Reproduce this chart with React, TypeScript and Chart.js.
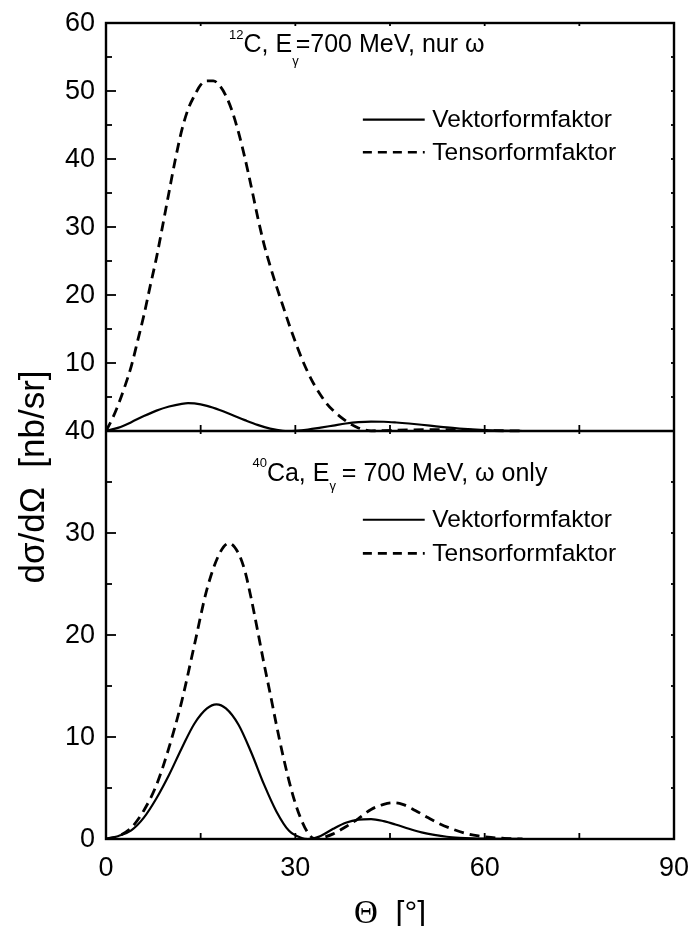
import React, { useEffect, useRef } from "react";
import { Chart, registerables } from "chart.js";

Chart.register(...registerables);

// ---------- data ----------
const xRange = [0, 90];
const xMajorTicks = [0, 30, 60, 90];
const xMinorTicks = [15, 45, 75];
const yTopRange = [0, 60];
const yTopMajorTicks = [10, 20, 30, 40, 50, 60];
const yTopMinorTicks = [5, 15, 25, 35, 45, 55];
const yBotRange = [0, 40];
const yBotMajorTicks = [0, 10, 20, 30, 40];
const yBotMinorTicks = [5, 15, 25, 35];

const seriesNames = ["Vektorformfaktor", "Tensorformfaktor"];
const topTitle = ["12", "C, E", "γ", "=700 MeV, nur ω"];
const botTitle = ["40", "Ca, E", "γ", " = 700 MeV, ω only"];
const xTitle = ["Θ", "  [°]"];
const yTitle = "dσ/dΩ  [nb/sr]";

// 12C, vector form factor
const thetaC12V = [0, 2, 4, 6, 8, 10, 12, 13, 14, 16, 18, 20, 22, 24, 26, 28, 29, 30, 32, 34, 36, 38, 40, 42, 44, 46, 48, 50, 52, 54, 56, 58, 60, 62, 64, 66];
const c12V = [0, 0.5, 1.3, 2.2, 3.0, 3.6, 4.0, 4.1, 4.05, 3.7, 3.1, 2.35, 1.6, 0.9, 0.35, 0.03, 0, 0.04, 0.22, 0.5, 0.8, 1.1, 1.3, 1.38, 1.36, 1.25, 1.1, 0.92, 0.72, 0.52, 0.36, 0.23, 0.13, 0.06, 0.02, 0];

// 12C, tensor form factor
const thetaC12T = [0, 1, 2, 3, 4, 5, 6, 7, 8, 9, 10, 11, 12, 13, 14, 15, 16, 17, 18, 19, 20, 21, 22, 23, 24, 25, 26, 27, 28, 29, 30, 31, 32, 33, 34, 35, 36, 37, 38, 39, 40, 41, 42, 44, 48, 52, 56, 60, 64, 66];
const c12T = [0, 1.8, 4.0, 6.6, 9.5, 13.2, 17.0, 21.3, 25.5, 30.3, 35.2, 40.0, 44.2, 47.3, 49.3, 50.9, 51.5, 51.5, 50.8, 49.3, 47.0, 43.9, 40.2, 36.0, 31.6, 27.6, 24.3, 21.3, 18.5, 15.7, 13.1, 10.7, 8.6, 6.8, 5.3, 4.0, 3.0, 2.2, 1.5, 0.9, 0.45, 0.15, 0.03, 0.06, 0.15, 0.2, 0.15, 0.08, 0.02, 0];

// 40Ca, vector form factor
const thetaCaV = [0, 2, 4, 6, 8, 10, 12, 14, 16, 17.5, 19, 21, 23, 25, 27, 29, 31, 32, 34, 36, 38, 40, 42, 44, 46, 48, 50, 52, 54, 56, 58, 60, 63, 66];
const caV = [0, 0.3, 0.85, 2.1, 4.0, 6.3, 8.9, 11.3, 12.8, 13.2, 12.8, 11.2, 8.5, 5.4, 2.7, 0.8, 0.1, 0, 0.3, 1.0, 1.6, 1.9, 1.95, 1.75, 1.4, 1.0, 0.65, 0.4, 0.22, 0.12, 0.06, 0.03, 0.01, 0];

// 40Ca, tensor form factor
const thetaCaT = [0, 2, 4, 6, 8, 10, 12, 14, 16, 18, 19.5, 21, 22, 23, 24, 25, 26, 27, 28, 29, 30, 31, 32, 33, 34, 36, 38, 40, 42, 44, 45.5, 47, 49, 51, 53, 55, 57, 59, 61, 63, 66];
const caT = [0, 0.3, 1.1, 2.8, 5.3, 9.0, 13.5, 19.0, 24.5, 28.0, 29.0, 28.0, 26.3, 23.6, 20.5, 17.3, 14.3, 11.2, 8.3, 5.7, 3.5, 1.8, 0.6, 0.05, 0.1, 0.5, 1.2, 2.0, 2.9, 3.4, 3.55, 3.4, 2.8, 2.1, 1.45, 0.95, 0.55, 0.3, 0.15, 0.07, 0];

const SANS = '"Liberation Sans", Arial, Helvetica, sans-serif';
const SERIF = '"Liberation Serif", "Times New Roman", serif';
const SOLID: number[] = [];
const DASH = [10, 6];

const pts = (xs: number[], ys: number[]) => xs.map((x, i) => ({ x, y: ys[i] }));

function drawRich(ctx: CanvasRenderingContext2D, x: number, y: number, parts: { t: string; size: number; dy: number; shrink?: number }[]) {
  let cx = x;
  for (const p of parts) {
    ctx.font = `${p.size}px ${SANS}`;
    ctx.fillText(p.t, cx, y + p.dy);
    cx += ctx.measureText(p.t).width - (p.shrink || 0);
  }
}

export default function App() {
  const ref = useRef<HTMLCanvasElement>(null);

  useEffect(() => {
    document.body.style.margin = "0";
    const canvas = ref.current!;

    const panelPlugin = {
      id: "panelAxes",
      afterDraw(chart: any) {
        const ctx: CanvasRenderingContext2D = chart.ctx;
        const xs = chart.scales.x;
        const yt = chart.scales.yTop;
        const yb = chart.scales.yBot;
        const L = xs.getPixelForValue(xRange[0]);
        const R = xs.getPixelForValue(xRange[1]);
        const T = yt.getPixelForValue(yTopRange[1]);
        const M = yb.getPixelForValue(yBotRange[1]);
        const B = yb.getPixelForValue(yBotRange[0]);
        ctx.save();
        ctx.strokeStyle = "#000";
        ctx.fillStyle = "#000";
        const seg = (x1: number, y1: number, x2: number, y2: number) => {
          ctx.beginPath();
          ctx.moveTo(x1, y1);
          ctx.lineTo(x2, y2);
          ctx.stroke();
        };
        // frame
        ctx.lineWidth = 2.4;
        ctx.strokeRect(L, T, R - L, B - T);
        seg(L, M, R, M);

        // y ticks
        ctx.lineWidth = 1.8;
        const yTick = (p: number, len: number) => {
          seg(L, p, L + len, p);
          seg(R, p, R - 3, p);
        };
        yTopMajorTicks.forEach((v) => yTick(yt.getPixelForValue(v), 10));
        yTopMinorTicks.forEach((v) => yTick(yt.getPixelForValue(v), 6));
        yBotMajorTicks.forEach((v) => yTick(yb.getPixelForValue(v), 10));
        yBotMinorTicks.forEach((v) => yTick(yb.getPixelForValue(v), 6));

        // x ticks
        [...xMajorTicks, ...xMinorTicks].forEach((v) => {
          const p = xs.getPixelForValue(v);
          seg(p, B, p, B - 6);
          seg(p, M, p, M - 6);
          seg(p, M, p, M + 3);
          seg(p, T, p, T + 3);
        });

        // y tick labels
        ctx.font = `27px ${SANS}`;
        ctx.textAlign = "right";
        ctx.textBaseline = "middle";
        yTopMajorTicks.forEach((v) => ctx.fillText(String(v), L - 11, yt.getPixelForValue(v) + 1));
        yBotMajorTicks.forEach((v) => ctx.fillText(String(v), L - 11, yb.getPixelForValue(v) + 1));

        // x tick labels
        ctx.textAlign = "center";
        ctx.textBaseline = "alphabetic";
        xMajorTicks.forEach((v) => ctx.fillText(String(v), xs.getPixelForValue(v), B + 37));

        // x title
        ctx.font = `33px ${SERIF}`;
        const w1 = ctx.measureText(xTitle[0]).width;
        ctx.font = `32px ${SANS}`;
        const w2 = ctx.measureText(xTitle[1]).width;
        const xc = (L + R) / 2;
        ctx.textAlign = "left";
        ctx.font = `33px ${SERIF}`;
        ctx.fillText(xTitle[0], xc - (w1 + w2) / 2, B + 84);
        ctx.font = `32px ${SANS}`;
        ctx.fillText(xTitle[1], xc - (w1 + w2) / 2 + w1, B + 84);

        // y title
        ctx.save();
        ctx.translate(44, M + 46);
        ctx.rotate(-Math.PI / 2);
        ctx.textAlign = "center";
        ctx.font = `35px ${SANS}`;
        ctx.fillText(yTitle, 0, 0);
        ctx.restore();

        // panel annotations
        ctx.textAlign = "left";
        drawRich(ctx, xs.getPixelForValue(19.5), yt.getPixelForValue(55.8), [
          { t: topTitle[0], size: 13, dy: -13 },
          { t: topTitle[1], size: 25, dy: 0 },
          { t: topTitle[2], size: 13, dy: 13, shrink: 3 },
          { t: topTitle[3], size: 25, dy: 0 },
        ]);
        drawRich(ctx, xs.getPixelForValue(23.2), yb.getPixelForValue(35.1), [
          { t: botTitle[0], size: 13, dy: -14 },
          { t: botTitle[1], size: 25, dy: 0 },
          { t: botTitle[2], size: 13, dy: 9, shrink: 1 },
          { t: botTitle[3], size: 25, dy: 0 },
        ]);

        // legends
        const legend = (ys: any, vSolid: number, vDash: number) => {
          const x1 = xs.getPixelForValue(40.7);
          const x2 = xs.getPixelForValue(50.5);
          const tx = xs.getPixelForValue(51.7);
          const entries = [
            { v: vSolid, dash: SOLID, label: seriesNames[0], w: 2.2 },
            { v: vDash, dash: [9, 6], label: seriesNames[1], w: 2.6 },
          ];
          entries.forEach((e) => {
            const p = ys.getPixelForValue(e.v);
            ctx.setLineDash(e.dash);
            ctx.lineWidth = e.w;
            seg(x1, p, x2, p);
            ctx.setLineDash([]);
            ctx.font = `24.5px ${SANS}`;
            ctx.textBaseline = "middle";
            ctx.fillText(e.label, tx, p + 1);
          });
          ctx.textBaseline = "alphabetic";
        };
        legend(yt, 45.8, 41.0);
        legend(yb, 31.3, 28.0);

        ctx.restore();
      },
    };

    const chart = new Chart(canvas, {
      type: "line",
      data: {
        datasets: [
          { label: seriesNames[0], data: pts(thetaC12V, c12V), yAxisID: "yTop", borderColor: "#000", borderWidth: 2.2, borderDash: SOLID },
          { label: seriesNames[1], data: pts(thetaC12T, c12T), yAxisID: "yTop", borderColor: "#000", borderWidth: 2.8, borderDash: DASH },
          { label: seriesNames[0], data: pts(thetaCaV, caV), yAxisID: "yBot", borderColor: "#000", borderWidth: 2.2, borderDash: SOLID },
          { label: seriesNames[1], data: pts(thetaCaT, caT), yAxisID: "yBot", borderColor: "#000", borderWidth: 2.8, borderDash: DASH },
        ],
      },
      options: {
        responsive: false,
        animation: false,
        devicePixelRatio: 1,
        layout: { padding: { left: 106, right: 15, top: 23, bottom: 87 } },
        plugins: { legend: { display: false }, tooltip: { enabled: false } },
        elements: {
          point: { radius: 0 },
          line: { cubicInterpolationMode: "monotone", fill: false },
        },
        scales: {
          x: { type: "linear", min: xRange[0], max: xRange[1], display: false },
          // top panel occupies the upper half: 0..60 mapped to upper half of -60..60
          yTop: { type: "linear", min: -yTopRange[1], max: yTopRange[1], display: false },
          // bottom panel occupies the lower half: 0..40 mapped to lower half of 0..80
          yBot: { type: "linear", min: yBotRange[0], max: 2 * yBotRange[1], display: false },
        },
      },
      plugins: [panelPlugin],
    } as any);

    return () => chart.destroy();
  }, []);

  return (
    <div style={{ width: 689, height: 926, background: "#fff" }}>
      <canvas ref={ref} width={689} height={926} style={{ display: "block", width: 689, height: 926 }} />
    </div>
  );
}
